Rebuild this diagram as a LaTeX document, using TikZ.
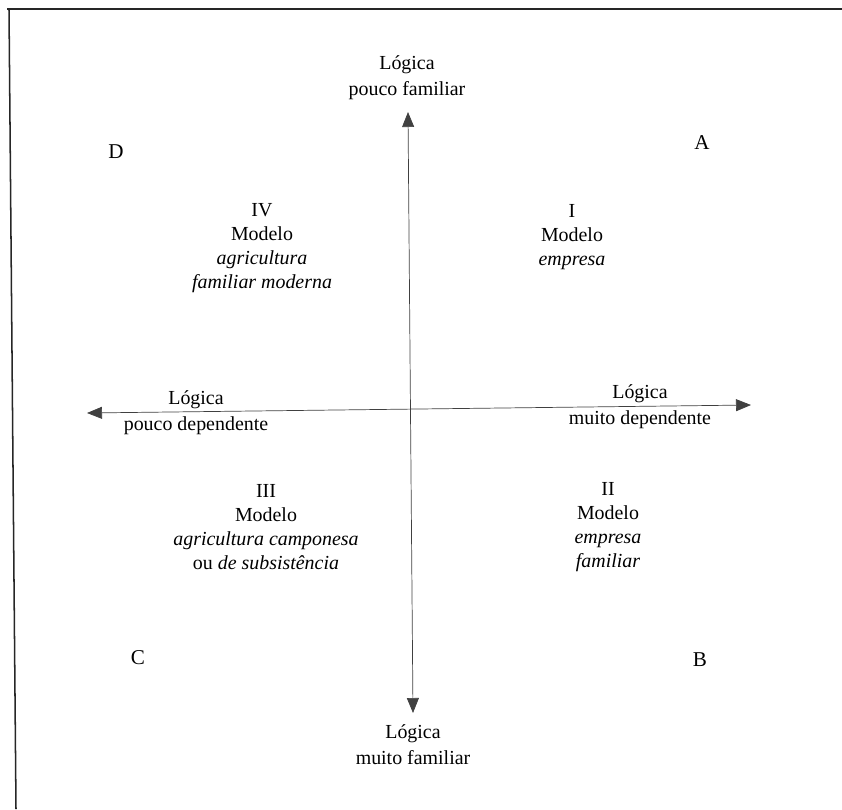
\documentclass[tikz,border=0pt]{standalone}
\usepackage{fontspec}
\setmainfont{Liberation Serif}
\usetikzlibrary{arrows.meta, positioning}

\begin{document}
\begin{tikzpicture}[
  x=0.03cm, y=-0.03cm,
  txt/.style={align=center, font=\fontsize{17}{20.5}\selectfont, inner sep=0pt},
  axlbl/.style={txt, font=\fontsize{17}{22}\selectfont},
  corner/.style={font=\fontsize{18}{21}\selectfont, inner sep=0pt},
  axis/.style={draw=black!75, line width=0.6pt, {Triangle[length=4.5mm, width=3.6mm]}-{Triangle[length=4.5mm, width=3.6mm]}},
  frame/.style={draw=black!85, line width=1.3pt}
]
\useasboundingbox (0,0) rectangle (842,809);

% moldura (só topo e lado esquerdo)
\draw[frame] (7,9) -- (842,9);
\draw[frame] (9,9) -- (16,809);

% eixos
\coordinate (topo) at (408,112);
\coordinate (base) at (413,713);
\coordinate (esq)  at (87,413);
\coordinate (dir)  at (751,405);
\draw[axis] (base) -- (topo);
\draw[axis] (esq) -- (dir);

% rótulos dos eixos
\node[axlbl] (lfam)  at (407,77.5)  {Lógica\\pouco familiar};
\node[axlbl] (lmfam) at (413,744.5) {Lógica\\muito familiar};
\node[axlbl] (lpdep) at (196,412.5) {Lógica\\pouco dependente};
\node[axlbl] (lmdep) at (640,406.5) {Lógica\\muito dependente};

% cantos
\node[corner] (cD) at (116,152) {D};
\node[corner] (cA) at (702,143) {A};
\node[corner] (cC) at (138,658) {C};
\node[corner] (cB) at (700,660) {B};

% quadrantes
\node[txt] (q4) at (262,248.5) {IV\\Modelo\\\textit{agricultura}\\\textit{familiar moderna}};
\node[txt] (q1) at (572,237.5) {I\\Modelo\\\textit{empresa}};
\node[txt] (q3) at (266,527.5) {III\\Modelo\\\textit{agricultura camponesa}\\ou \textit{de subsistência}};
\node[txt] (q2) at (608,527.5) {II\\Modelo\\\textit{empresa}\\\textit{familiar}};

\end{tikzpicture}
\end{document}
